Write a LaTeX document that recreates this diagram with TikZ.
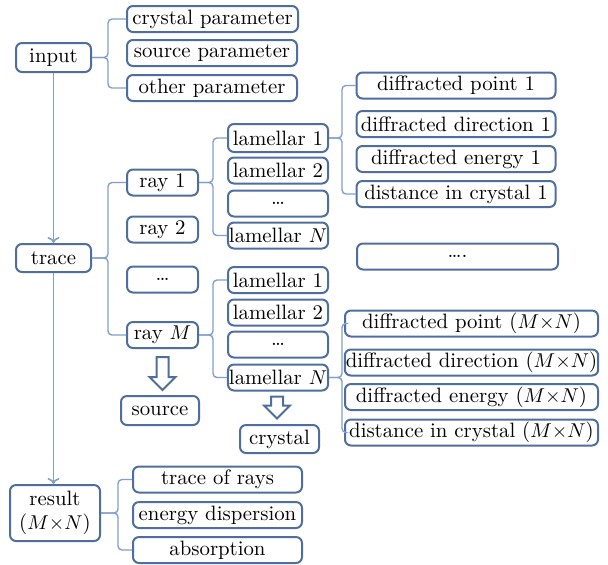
\documentclass[tikz,border=0pt]{standalone}
\usepackage{amsmath,amssymb}
\usetikzlibrary{positioning, arrows.meta, shapes.arrows}

\definecolor{boxblue}{RGB}{78,110,160}
\definecolor{linkblue}{RGB}{128,158,206}

\begin{document}
\begin{tikzpicture}[
        x=0.5pt, y=-0.5pt,
        font=\fontsize{10.4}{12}\selectfont,
        box/.style={draw=boxblue, rectangle, rounded corners=3pt, line width=1pt, align=center, fill=white, inner sep=0.5pt, minimum height=13pt},
        brace/.style={draw=linkblue, line width=0.7pt, rounded corners=2pt},
        arrow/.style={-{To[length=3pt, width=6pt]}, draw=linkblue, line width=0.8pt},
        hollow/.style={single arrow, draw=boxblue, line width=1pt, fill=white, shape border rotate=270, inner sep=2.5pt, single arrow head extend=3.5pt, anchor=tail}
    ]
    \useasboundingbox (0,0) rectangle (608,564);

    % Nodes
    \node[box, minimum width=37.5pt, minimum height=14.5pt] (input) at (53.5,57.5) {input};
    \node[box, minimum width=85.5pt] (cpar) at (212.5,19) {crystal parameter};
    \node[box, minimum width=85pt] (spar) at (212,53) {source parameter};
    \node[box, minimum width=85pt] (opar) at (212,88) {other parameter};

    \node[box, minimum width=37.5pt, minimum height=14pt] (trace) at (53.5,258) {trace};
    \node[box, minimum width=35.5pt] (ray1) at (162.5,182.5) {ray 1};
    \node[box, minimum width=35.5pt] (ray2) at (162.5,229.5) {ray 2};
    \node[box, minimum width=35.5pt] (raydots) at (162.5,279.5) {\dots};
    \node[box, minimum width=35.5pt] (rayM) at (162.5,335) {ray $M$};

    \node[box, minimum width=50pt, minimum height=14pt] (lamA1) at (278,138) {lamellar 1};
    \node[box, minimum width=50pt] (lamA2) at (278,170.5) {lamellar 2};
    \node[box, minimum width=50pt] (lamAdots) at (278,203.5) {\dots};
    \node[box, minimum width=50pt] (lamAN) at (278,235.5) {lamellar $N$};

    \node[box, minimum width=50pt] (lamB1) at (278,280) {lamellar 1};
    \node[box, minimum width=50pt] (lamB2) at (278,312.5) {lamellar 2};
    \node[box, minimum width=50pt] (lamBdots) at (278,344.5) {\dots};
    \node[box, minimum width=50pt] (lamBN) at (278,377.5) {lamellar $N$};

    \node[box, minimum width=39pt, minimum height=14.5pt] (source) at (160,410.5) {source};
    \node[box, minimum width=39.5pt, minimum height=14pt] (crystal) at (279.5,439) {crystal};

    \node[box, minimum width=99.5pt] (pointA) at (456,85.5) {diffracted point 1};
    \node[box, minimum width=99.5pt] (dirA) at (456,124) {diffracted direction 1};
    \node[box, minimum width=99.5pt] (energyA) at (456,159) {diffracted energy 1};
    \node[box, minimum width=99.5pt] (distA) at (456,194) {distance in crystal 1};
    \node[box, minimum width=100.5pt] (diffdots) at (457.5,256.5) {\dots.};

    \node[box, minimum width=126.5pt] (pointB) at (471.5,323.5) {diffracted point ($M{\times}N$)};
    \node[box, minimum width=126.5pt] (dirB) at (471.5,362.5) {diffracted direction ($M{\times}N$)};
    \node[box, minimum width=126.5pt] (energyB) at (471.5,397) {diffracted energy ($M{\times}N$)};
    \node[box, minimum width=126.5pt] (distB) at (471.5,432.5) {distance in crystal ($M{\times}N$)};

    \node[box, minimum width=45pt, minimum height=28pt] (result) at (55,513) {result\\($M{\times}N$)};
    \node[box, minimum width=84.5pt] (rays) at (217.5,479.5) {trace of rays};
    \node[box, minimum width=84.5pt] (disp) at (217.5,515) {energy dispersion};
    \node[box, minimum width=84.5pt] (absorb) at (217.5,550) {absorption};

    % Hollow arrows
    \node[hollow, minimum height=16.5pt, minimum width=12pt] (toSource) at ([yshift=-3.5pt]rayM.south) {};
    \node[hollow, minimum height=11pt, minimum width=10pt] (toCrystal) at ([xshift=-0.5pt, yshift=-2pt]lamBN.south) {};

    % Arrows
    \draw[arrow] (input.south) -- (input.south |- trace.north);
    \draw[arrow] (trace.south) -- (trace.south |- result.north);

    % Brace points
    \coordinate (inputB) at ([xshift=8pt]input.east);
    \coordinate (traceB) at ([xshift=8pt]trace.east);
    \coordinate (ray1B) at ([xshift=7pt]ray1.east);
    \coordinate (rayMB) at ([xshift=7pt]rayM.east);
    \coordinate (lamA1B) at ([xshift=6.5pt]lamA1.east);
    \coordinate (lamBNB) at ([xshift=6.5pt]lamBN.east);
    \coordinate (resultB) at ([xshift=8.5pt]result.east);

    % Braces (first and last child only)
    \draw[brace] (cpar.west) -| (inputB) -- (input.east);
    \draw[brace] (opar.west) -| (inputB) -- (input.east);
    \draw[brace] (ray1.west) -| (traceB) -- (trace.east);
    \draw[brace] (rayM.west) -| (traceB) -- (trace.east);
    \draw[brace] (lamA1.west) -| (ray1B) -- (ray1.east);
    \draw[brace] (lamAN.west) -| (ray1B) -- (ray1.east);
    \draw[brace] (lamB1.west) -| (rayMB) -- (rayM.east);
    \draw[brace] (lamBN.west) -| (rayMB) -- (rayM.east);
    \draw[brace] (pointA.west) -| (lamA1B) -- (lamA1.east);
    \draw[brace] (distA.west) -| (lamA1B) -- (lamA1.east);
    \draw[brace] (pointB.west) -| (lamBNB) -- (lamBN.east);
    \draw[brace] (distB.west) -| (lamBNB) -- (lamBN.east);
    \draw[brace] (rays.west) -| (resultB) -- (result.east);
    \draw[brace] (absorb.west) -| (resultB) -- (result.east);
\end{tikzpicture}
\end{document}
